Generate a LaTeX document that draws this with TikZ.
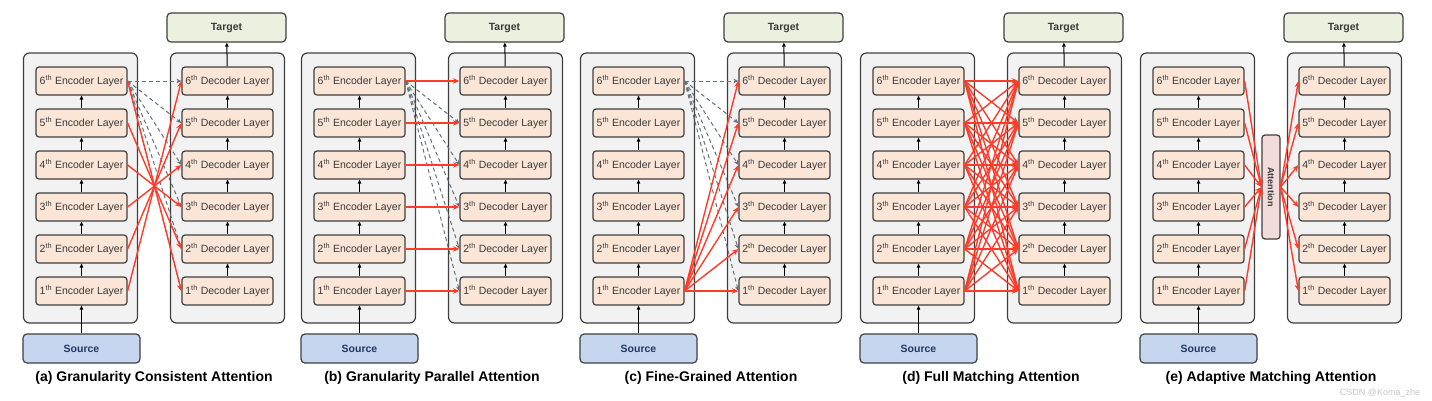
\documentclass[tikz,border=0pt]{standalone}
\usepackage{fontspec}
\setmainfont{Liberation Sans}
\usetikzlibrary{arrows.meta}
\definecolor{framegray}{HTML}{3F3F3F}
\definecolor{panelgray}{HTML}{F2F2F2}
\definecolor{layerfill}{HTML}{FBE5D6}
\definecolor{layertext}{HTML}{3A3A3A}
\definecolor{targetfill}{HTML}{EBF1DE}
\definecolor{sourcefill}{HTML}{C6D6EE}
\definecolor{sourcetext}{HTML}{1F3864}
\definecolor{attfill}{HTML}{F2DCDB}
\definecolor{attred}{HTML}{FF3B2A}
\definecolor{dashgray}{HTML}{66707C}

\begin{document}
\begin{tikzpicture}[
        x=1pt, y=-1pt,
        C/.style = {rectangle, draw=framegray, fill=panelgray, line width=1.2pt,
                rounded corners=6pt, minimum width=114pt, minimum height=270pt},% encoder / decoder frames
        L/.style = {rectangle, draw=framegray, fill=layerfill, line width=1.2pt,
                rounded corners=3pt, minimum width=91pt, minimum height=28pt,
                inner sep=0pt, text=layertext, font=\fontsize{10.5}{12}\selectfont},
        TG/.style = {rectangle, draw=framegray, fill=targetfill, line width=1.2pt,
                rounded corners=4pt, minimum width=119pt, minimum height=29pt,
                text=layertext, font=\bfseries\fontsize{10.5}{12}\selectfont},
        SR/.style = {TG, fill=sourcefill, minimum width=117pt, text=sourcetext},
        AT/.style = {rectangle, draw=framegray, fill=attfill, line width=1.2pt,
                rounded corners=3pt, minimum width=18pt, minimum height=104pt,
                inner sep=0pt, text=layertext, font=\bfseries\fontsize{9}{10}\selectfont},
        UP/.style = {-{Triangle[length=4pt,width=3.5pt]}, line width=1pt, black},
        R/.style = {-{Stealth[length=6.5pt,width=5.5pt]}, draw=attred, line width=1.4pt},
        D/.style = {-{Stealth[length=5pt,width=4.5pt]}, draw=dashgray, line width=1pt,
                dash pattern=on 4pt off 3pt},
    ]
    \useasboundingbox (0,0) rectangle (1432,400);
    % five panels, same frame
    \foreach \p/\ox/\capt in {a/0/Granularity Consistent Attention,%
            b/278/Granularity Parallel Attention,%
            c/557/Fine-Grained Attention,%
            d/837/Full Matching Attention,%
            e/1117/Adaptive Matching Attention}
    {
        \node[C] (enc\p) at (\ox+80.5,188) {};
        \node[C] (dec\p) at (\ox+227.5,188) {};
        \node[TG] (tgt\p) at (\ox+226.5,27.5) {Target};
        \node[SR] (src\p) at (\ox+81.5,348.5) {Source};
        \foreach \i in {1,...,6}
        {
            \node[L] (e\p\i) at (\ox+81.5,{291-42*(\i-1)}) {\i\textsuperscript{th} Encoder Layer};
            \node[L] (d\p\i) at (\ox+227.5,{291-42*(\i-1)}) {\i\textsuperscript{th} Decoder Layer};
        }
        \foreach \i [count=\j from 2] in {1,...,5}
        {
            \draw[UP] (e\p\i) -- (e\p\j);
            \draw[UP] (d\p\i) -- (d\p\j);
        }
        \draw[UP] (src\p) -- (e\p1);
        \draw[UP] (d\p6) -- (tgt\p);
        \node[font=\bfseries\fontsize{14}{16}\selectfont] (cap\p) at (\ox+154,378) {(\p) \capt};
    }
    % (a) consistent
    \foreach \i in {1,...,6} \draw[D] (ea6.east) -- (da\i.west);
    \foreach \i [evaluate=\i as \k using int(7-\i)] in {1,...,6} \draw[R] (ea\i.east) -- (da\k.west);
    % (b) parallel
    \foreach \i in {1,...,5} \draw[D] (eb6.east) -- (db\i.west);
    \foreach \i in {1,...,6} \draw[R] (eb\i.east) -- (db\i.west);
    % (c) fine-grained
    \foreach \i in {1,...,6} \draw[D] (ec6.east) -- (dc\i.west);
    \foreach \i in {1,...,6} \draw[R] (ec1.east) -- (dc\i.west);
    % (d) full matching
    \foreach \i in {1,...,6} \foreach \k in {1,...,6} \draw[R] (ed\i.east) -- (dd\k.west);
    % (e) adaptive matching
    \node[AT] (att) at (1271,187) {\rotatebox{-90}{Attention}};
    \foreach \i in {1,...,6}
    {
        \draw[R] (ee\i.east) -- (att.west);
        \draw[R] (att.east) -- (de\i.west);
    }
    \node[text=gray!45, font=\fontsize{9}{10}\selectfont] (mark) at (1380,393) {CSDN @Koma\_zhe};
\end{tikzpicture}
\end{document}
